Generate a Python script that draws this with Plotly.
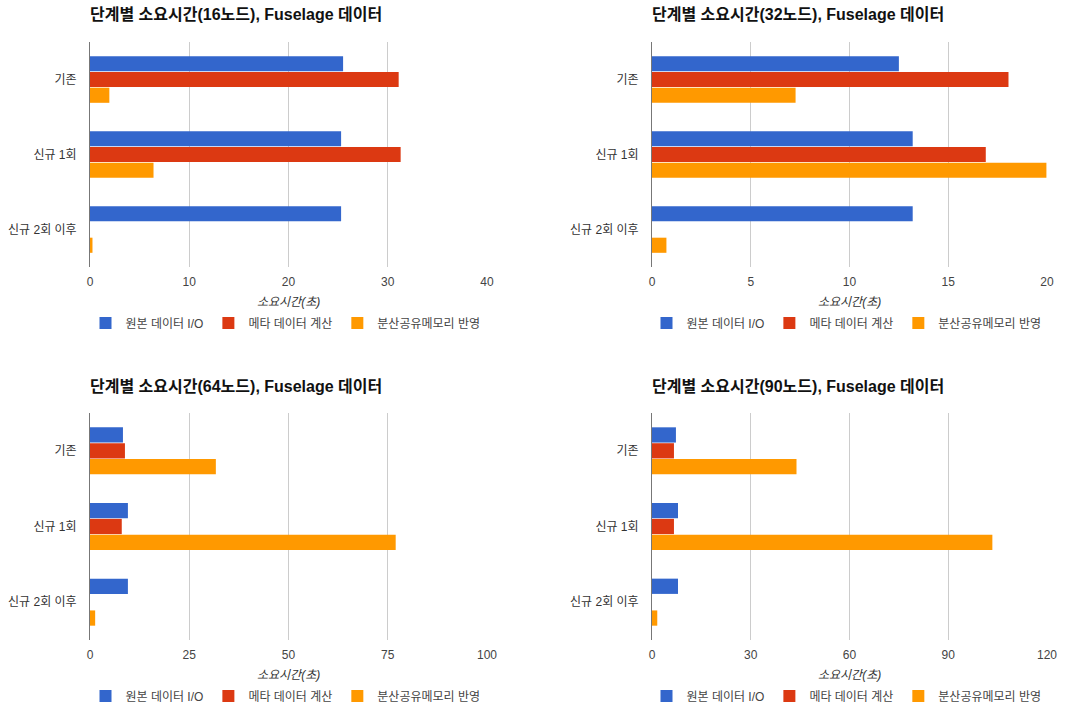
import plotly.graph_objects as go

categories = ["기존", "신규 1회", "신규 2회 이후"]
series_names = ["원본 데이터 I/O", "메타 데이터 계산", "분산공유메모리 반영"]
colors = ["#3366CC", "#DC3912", "#FF9900"]

titles = [
    "단계별 소요시간(16노드), Fuselage 데이터",
    "단계별 소요시간(32노드), Fuselage 데이터",
    "단계별 소요시간(64노드), Fuselage 데이터",
    "단계별 소요시간(90노드), Fuselage 데이터",
]

# values per panel: [원본 데이터 I/O, 메타 데이터 계산, 분산공유메모리 반영]
n16_io = [25.5, 25.3, 25.3]
n16_meta = [31.1, 31.3, 0]
n16_shm = [1.95, 6.4, 0.25]

n32_io = [12.5, 13.2, 13.2]
n32_meta = [18.05, 16.9, 0]
n32_shm = [7.27, 19.97, 0.73]

n64_io = [8.3, 9.55, 9.55]
n64_meta = [8.8, 8.0, 0]
n64_shm = [31.7, 77.0, 1.3]

n90_io = [7.27, 7.9, 7.9]
n90_meta = [6.67, 6.67, 0]
n90_shm = [43.9, 103.4, 1.6]

panels = [
    [n16_io, n16_meta, n16_shm],
    [n32_io, n32_meta, n32_shm],
    [n64_io, n64_meta, n64_shm],
    [n90_io, n90_meta, n90_shm],
]
x_ranges = [[0, 40], [0, 20], [0, 100], [0, 120]]
x_dticks = [10, 5, 25, 30]
axis_title = "소요시간(초)"

W, H = 1072, 710
FONT = "Arial, 'Liberation Sans', 'Noto Sans CJK KR', sans-serif"

# pixel layout of each plot area: (left, right, top, bottom)
boxes = [
    (90, 487, 42, 267),
    (652, 1047, 42, 267),
    (90, 487, 413, 640),
    (652, 1047, 413, 640),
]

def px_x(p):
    return p / W

def px_y(p):
    return 1 - p / H

fig = go.Figure()
layout = dict(
    width=W, height=H, autosize=False,
    margin=dict(l=0, r=0, t=0, b=0, pad=0, autoexpand=False),
    paper_bgcolor="white", plot_bgcolor="white",
    font=dict(family=FONT, size=12, color="#444444"),
    barmode="group", bargap=0.37, bargroupgap=0.04,
    annotations=[],
)

for i, (vals, box) in enumerate(zip(panels, boxes)):
    l, r, t, b = box
    sfx = "" if i == 0 else str(i + 1)
    xa, ya = "x" + sfx, "y" + sfx
    leg = "legend" + sfx
    for j in range(3):
        fig.add_trace(go.Bar(
            y=categories, x=vals[j], orientation="h",
            name=series_names[j], marker=dict(color=colors[j], line=dict(width=0)),
            xaxis=xa, yaxis=ya, legend=leg, showlegend=True,
        ))
    layout["xaxis" + sfx] = dict(
        domain=[px_x(l), px_x(r)], anchor=ya, range=x_ranges[i], dtick=x_dticks[i],
        showgrid=True, gridcolor="#CCCCCC", gridwidth=1, zeroline=False,
        showline=False, ticks="", ticklabelstandoff=6, automargin=False,
        tickfont=dict(size=12, color="#444444"), fixedrange=True,
    )
    layout["yaxis" + sfx] = dict(
        domain=[px_y(b), px_y(t)], anchor=xa, autorange="reversed",
        type="category", showgrid=False, zeroline=False, automargin=False,
        showline=True, linecolor="#777777", linewidth=1,
        ticks="", ticklabelstandoff=10,
        tickfont=dict(size=12, color="#333333"),
    )
    cx = (l + r) / 2
    layout[leg] = dict(
        orientation="h", x=px_x(cx - 3), xanchor="center",
        y=px_y(b + 56), yanchor="middle",
        font=dict(size=12, color="#444444"), bgcolor="rgba(0,0,0,0)",
        itemwidth=30, traceorder="normal",
    )
    layout["annotations"].append(dict(
        text="<b>" + titles[i] + "</b>", x=px_x(l - 2), y=px_y(t - 27),
        xref="paper", yref="paper", xanchor="left", yanchor="middle",
        showarrow=False, font=dict(size=16, color="#111111"),
    ))
    layout["annotations"].append(dict(
        text="<i>" + axis_title + "</i>", x=px_x(cx), y=px_y(b + 35),
        xref="paper", yref="paper", xanchor="center", yanchor="middle",
        showarrow=False, font=dict(size=12, color="#333333"),
    ))

fig.update_layout(**layout)
fig.write_html("out.html")
